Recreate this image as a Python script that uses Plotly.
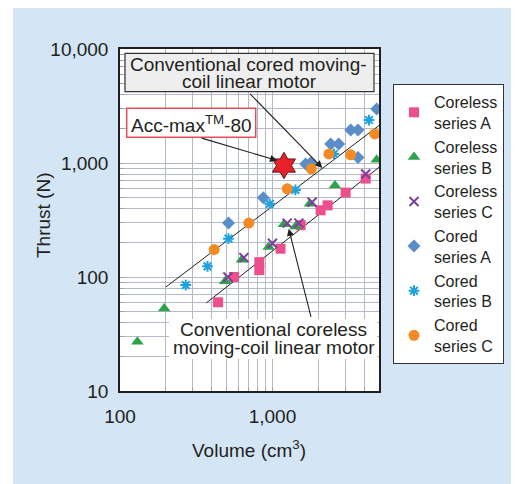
import math
import plotly.graph_objects as go

# ---------------- data ----------------
coreless_a_x = [440, 560, 820, 820, 1130, 1530, 2070, 2300, 3020, 4090]
coreless_a_y = [60, 100, 135, 115, 177, 285, 385, 425, 550, 730]

coreless_b_x = [130, 195, 490, 630, 945, 1190, 1420, 1760, 2570, 4830]
coreless_b_y = [27, 53, 92, 142, 183, 290, 278, 440, 635, 1070]

coreless_c_x = [510, 650, 1000, 1250, 1490, 1820, 4090]
coreless_c_y = [100, 148, 198, 297, 297, 453, 800]

cored_a_x = [515, 870, 1650, 1780, 2410, 2720, 3640, 3260, 3640, 4830]
cored_a_y = [297, 495, 980, 1000, 1470, 1470, 1120, 1950, 1950, 2970]

cored_b_x = [270, 375, 515, 960, 1415, 2530, 4300]
cored_b_y = [85, 124, 217, 438, 580, 1200, 2380]

cored_c_x = [415, 700, 1250, 1800, 2345, 3260, 4690]
cored_c_y = [174, 297, 593, 890, 1200, 1180, 1800]

accmax_x = [1190]
accmax_y = [950]

cored_line_x = [200, 5690]
cored_line_y = [81.7, 2430]
coreless_line_x = [368, 5690]
coreless_line_y = [59.2, 1050]

x_tickvals = [100, 200, 300, 400, 500, 600, 700, 800, 900, 1000, 2000, 3000, 4000, 5000]
x_ticktext = ["100", "", "", "", "", "", "", "", "", "1,000", "", "", "", ""]
y_tickvals = [m * 10 ** e for e in (1, 2, 3) for m in range(1, 10)] + [10000]
y_ticktext = [("{:,}".format(m * 10 ** e) if m == 1 else "") for e in (1, 2, 3)
              for m in range(1, 10)] + ["10,000"]

series_names = ["Coreless<br>series A", "Coreless<br>series B", "Coreless<br>series C",
                "Cored<br>series A", "Cored<br>series B", "Cored<br>series C"]

# ---------------- layout helpers ----------------
# The page body has an 8 px margin, so the figure is drawn 8 px right/down.
OFF = 8
W, H = 519 - OFF, 484 - OFF
# plot area in screen (reference) pixels
L, R, T, B = 120, 379, 49, 391


def px(x):
    return (x - L) / (R - L)


def py(y):
    return (B - y) / (B - T)


FONT = "Liberation Sans, Arial, sans-serif"
TXT = "#231f20"

fig = go.Figure()

# trend lines
for lx, ly in [(cored_line_x, cored_line_y), (coreless_line_x, coreless_line_y)]:
    fig.add_trace(go.Scatter(x=lx, y=ly, mode="lines", line=dict(color=TXT, width=1),
                             showlegend=False, hoverinfo="skip"))

styles = [
    dict(symbol="square", size=10, color="#ec4f8c"),
    dict(symbol="triangle-up", size=11, color="#2ea24a"),
    dict(symbol="x-thin-open", size=9, color="#7b3f9e", line=dict(width=2, color="#7b3f9e")),
    dict(symbol="diamond", size=10, color="#5b8dc9"),
    dict(symbol="asterisk-open", size=9, color="#1ea2df", line=dict(width=2, color="#1ea2df")),
    dict(symbol="circle", size=11, color="#f28a25"),
]
data = [(coreless_a_x, coreless_a_y), (coreless_b_x, coreless_b_y), (coreless_c_x, coreless_c_y),
        (cored_a_x, cored_a_y), (cored_b_x, cored_b_y), (cored_c_x, cored_c_y)]

for (sx, sy), name, st in zip(data, series_names, styles):
    fig.add_trace(go.Scatter(x=sx, y=sy, mode="markers", name=name, marker=st))

fig.add_trace(go.Scatter(x=accmax_x, y=accmax_y, mode="markers", showlegend=False,
                         marker=dict(symbol="hexagram", size=20, color="#e8202a",
                                     line=dict(color="#5a1a1a", width=1))))

axis_common = dict(
    type="log", showline=True, mirror=True, linecolor=TXT, linewidth=1.5,
    showgrid=True, gridcolor="#b3bac6", gridwidth=1, zeroline=False,
    ticks="inside", ticklen=4, tickcolor="#9aa2ae",
    tickfont=dict(family=FONT, size=19, color=TXT),
)

fig.update_xaxes(range=[2, math.log10(5000)], tickmode="array", tickvals=x_tickvals,
                 ticktext=x_ticktext, ticklabelstandoff=7, **axis_common)
fig.update_yaxes(range=[1, 4], tickmode="array", tickvals=y_tickvals,
                 ticktext=y_ticktext, ticklabelstandoff=6, **axis_common)

shapes = [
    # white strip at the left of the figure frame
    dict(type="rect", xref="paper", yref="paper", x0=px(OFF), x1=px(13), y0=py(H + OFF), y1=py(OFF),
         fillcolor="white", line=dict(width=0), layer="below"),
    # cored label box
    dict(type="rect", xref="paper", yref="paper", x0=px(125), x1=px(374), y0=py(91.7), y1=py(53.3),
         fillcolor="#eeeeee", line=dict(color="#333333", width=1.2), layer="above"),
    # acc-max label box
    dict(type="rect", xref="paper", yref="paper", x0=px(126.7), x1=px(255.7), y0=py(137.3), y1=py(108.3),
         fillcolor="white", line=dict(color="#e0505a", width=1.5), layer="above"),
    # coreless label background
    dict(type="rect", xref="paper", yref="paper", x0=px(169), x1=px(377), y0=py(359), y1=py(319),
         fillcolor="white", line=dict(width=0), layer="above"),
]


def txt(x, y, s, size=19, **kw):
    d = dict(xref="paper", yref="paper", x=px(x), y=py(y), text=s, showarrow=False,
             xanchor="center", yanchor="middle", font=dict(family=FONT, size=size, color=TXT))
    d.update(kw)
    return d


def arrow(hx, hy, tx, ty):
    return dict(xref="x", yref="y", axref="x", ayref="y",
                x=math.log10(hx), y=math.log10(hy), ax=math.log10(tx), ay=math.log10(ty),
                text="", showarrow=True, arrowhead=2, arrowsize=1.3, arrowwidth=1.1,
                arrowcolor=TXT, standoff=0, startstandoff=0)


annotations = [
    txt(248.5, 64, "Conventional cored moving-"),
    txt(249, 82, "coil linear motor"),
    txt(191.2, 124, "Acc-max<sup>TM</sup>-80"),
    txt(273, 329, "Conventional coreless"),
    txt(273.5, 347, "moving-coil linear motor"),
    txt(43, 215, "Thrust (N)", size=19, textangle=-90),
    txt(249, 449, "Volume (cm<sup>3</sup>)", size=19),
    arrow(2123, 906, 698, 4160),
    arrow(1074, 1050, 336, 1667),
    arrow(1279, 265, 1800, 43.3),
]

fig.update_layout(
    width=W, height=H,
    margin=dict(l=L - OFF, r=W - (R - OFF), t=T - OFF, b=H - (B - OFF), pad=0),
    paper_bgcolor="#d4e5f5", plot_bgcolor="white",
    font=dict(family=FONT, color=TXT),
    shapes=shapes, annotations=annotations,
    legend=dict(x=px(393), y=py(84), xanchor="left", yanchor="top",
                bgcolor="white", bordercolor="#333333", borderwidth=1,
                font=dict(family=FONT, size=16, color=TXT), tracegroupgap=0,
                itemwidth=30),
    showlegend=True,
)

fig.write_html("out.html")
